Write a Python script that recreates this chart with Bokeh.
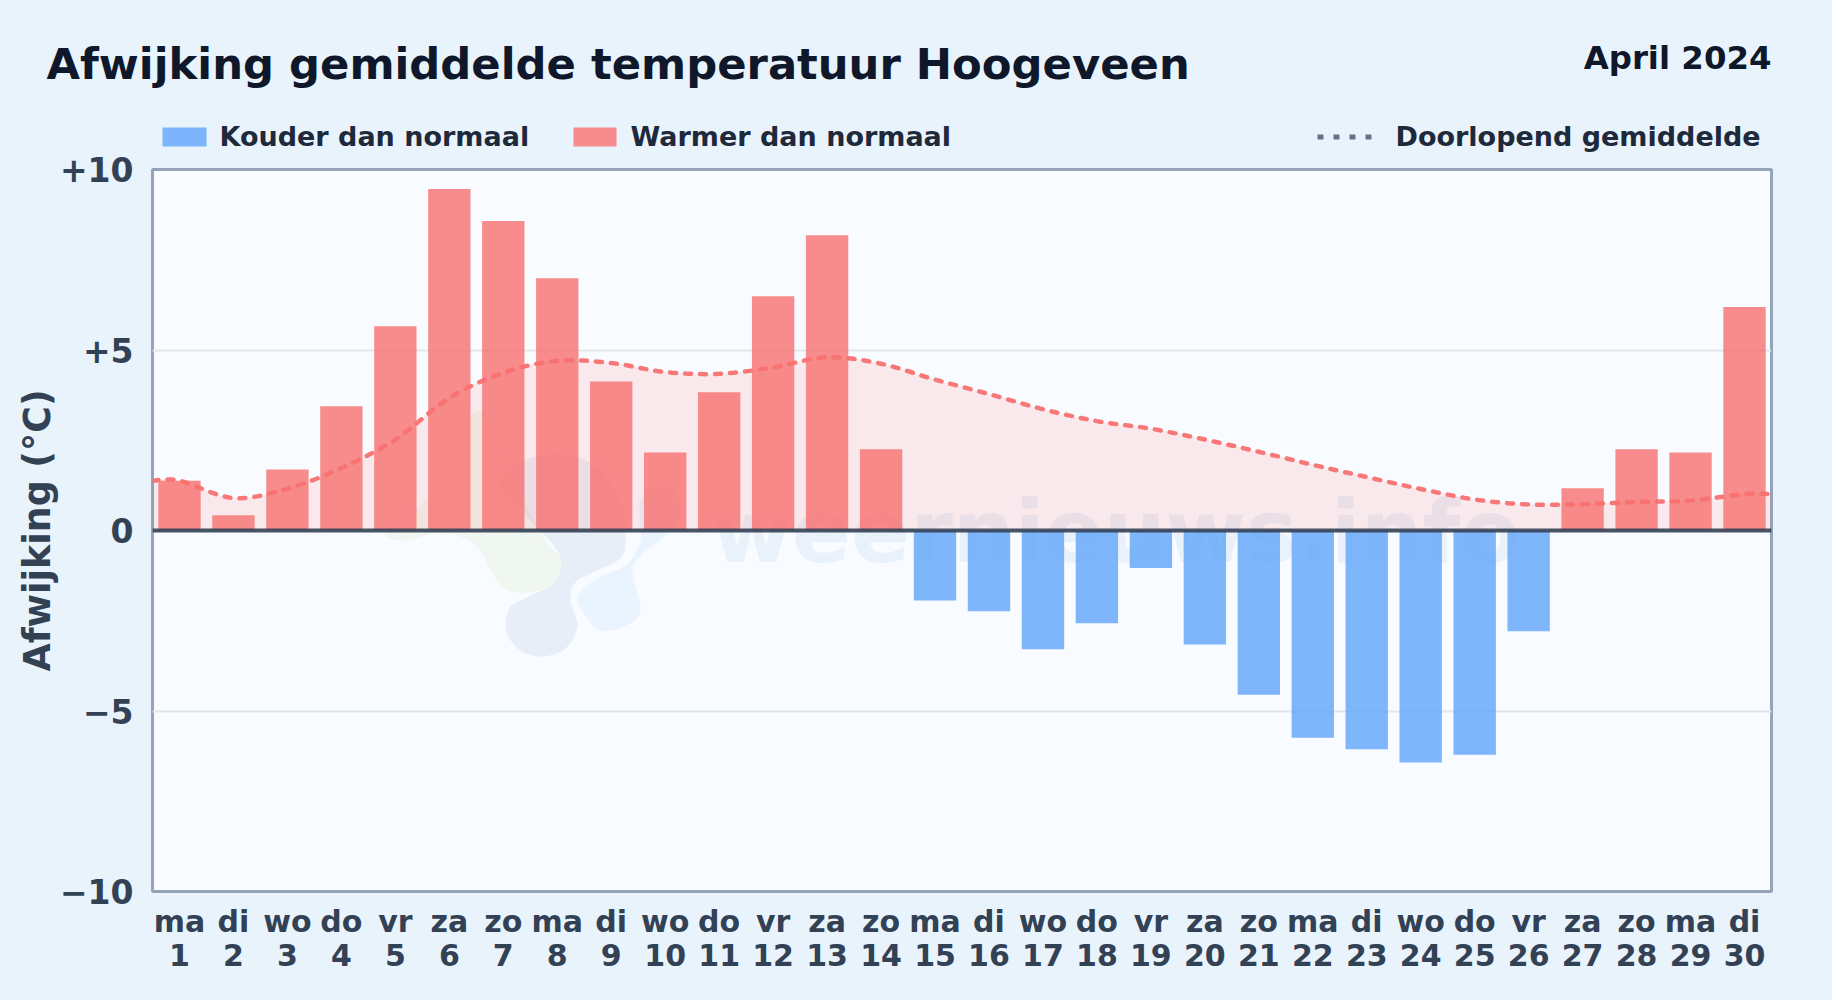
from bokeh.embed import file_html
from bokeh.resources import INLINE
from bokeh.plotting import figure
from bokeh.layouts import column
from bokeh.models import (ColumnDataSource, FixedTicker, Range1d, Span, LinearAxis)
from bokeh.core.properties import value
import numpy as np

# ---- data ----
weekdays = ["ma","di","wo","do","vr","za","zo","ma","di","wo","do","vr","za","zo","ma",
            "di","wo","do","vr","za","zo","ma","di","wo","do","vr","za","zo","ma","di"]
days = list(range(1, 31))
deviation = [1.38,0.42,1.69,3.44,5.66,9.46,8.57,6.99,4.13,2.16,3.83,6.49,8.18,2.25,-1.94,
             -2.24,-3.29,-2.57,-1.04,-3.16,-4.55,-5.74,-6.06,-6.43,-6.21,-2.79,1.17,2.25,2.16,6.19]
running_mean = [1.38,0.90,1.16,1.73,2.52,3.67,4.37,4.70,4.64,4.39,4.34,4.52,4.80,4.62,4.18,
                3.78,3.36,3.03,2.82,2.52,2.18,1.82,1.48,1.15,0.86,0.72,0.73,0.79,0.83,1.01]
y_ticks = [-10, -5, 0, 5, 10]
y_tick_labels = {-10: "\u221210", -5: "\u22125", 0: "0", 5: "+5", 10: "+10"}

BG = "#e8f3fc"; PLOT_BG = "#f8fbff"; INK = "#0f172a"; AXIS_INK = "#334155"; LEG_INK = "#1e293b"
RED = "#f87171"; BLUE = "#60a5fa"
W, H, HEAD, OVERLAP = 1832, 1000, 155, 12
L, R, T, B = 152.0, 1771.0, 169.0, 891.0   # page pixels of the frame
RISE = 0.38   # the text glyph's baseline sits this many ems lower than asked

# ---- header figure: title and legend, its data units are page pixels ----
head = figure(width=W, height=HEAD, output_backend="svg", toolbar_location=None,
              x_range=Range1d(0, W), y_range=Range1d(HEAD, 0), x_axis_location=None, y_axis_location=None,
              min_border=0, background_fill_color=BG, border_fill_color=BG, outline_line_color=None,
              frame_align=False, margin=(0, 0, -OVERLAP, 0))
head.xgrid.visible = False; head.ygrid.visible = False

def label(px, py, text, size, color, align="left"):
    head.text(x=[px], y=[py-RISE*size], text=[text], text_font=value("DejaVu Sans"), text_font_style="bold",
              text_font_size=f"{size}px", text_color=color, text_align=align, text_baseline="alphabetic")

label(46, 79.5, "Afwijking gemiddelde temperatuur Hoogeveen", 43.3, INK)
label(1771, 70, "April 2024", 32.4, INK, "right")
label(219, 146, "Kouder dan normaal", 27, LEG_INK)
label(630, 146, "Warmer dan normaal", 27, LEG_INK)
label(1395, 146, "Doorlopend gemiddelde", 27, LEG_INK)
head.quad(left=[162], right=[206], top=[127], bottom=[146], fill_color=BLUE, fill_alpha=0.8, line_color=None)
head.quad(left=[573], right=[616], top=[127], bottom=[146], fill_color=RED, fill_alpha=0.8, line_color=None)
head.quad(left=[1317, 1333, 1349, 1365], right=[1323, 1339, 1355, 1371], top=[134]*4, bottom=[139]*4,
          fill_color="#64748b", line_color=None)

# ---- main figure ----
TOP = HEAD - OVERLAP
p = figure(width=W, height=H-TOP, output_backend="svg", toolbar_location=None,
           x_range=Range1d(0.5, 30.5), y_range=Range1d(-10, 10),
           min_border_left=int(L), min_border_right=int(W-R),
           min_border_top=int(T-TOP), min_border_bottom=int(H-B),
           background_fill_color=PLOT_BG, border_fill_alpha=0,
           outline_line_color="#94a3b8", outline_line_width=3, frame_align=False)

def X(px): return 0.5 + (np.asarray(px, float)-L)/(R-L)*30
def Y(py): return 10 - (np.asarray(py, float)-T)/(B-T)*20

def smooth(xs, ys, n=16, closed=False):
    xs = np.asarray(xs, float); ys = np.asarray(ys, float)
    if closed:
        xs = np.r_[xs[-1], xs, xs[0], xs[1]]; ys = np.r_[ys[-1], ys, ys[0], ys[1]]
    else:
        xs = np.r_[xs[0], xs, xs[-1]]; ys = np.r_[ys[0], ys, ys[-1]]
    t = np.linspace(0, 1, n, endpoint=False)[:, None]
    def seg(a):
        a0, a1, a2, a3 = a[:-3], a[1:-2], a[2:-1], a[3:]
        return (0.5*((2*a1) + (a2-a0)*t + (2*a0-5*a1+4*a2-a3)*t**2 + (3*a1-a0-3*a2+a3)*t**3)).T.ravel()
    return seg(xs), seg(ys)

# ---- watermark ----
logo_green = [(385,532),(420,505),(440,470),(470,415),(490,420),(510,470),(540,533),(561,560),(553,583),(525,592),(500,585),(475,545),(440,532),(405,540)]
logo_navy = [(508,610),(506,632),(520,650),(541,656),(565,648),(577,625),(570,600),(577,580),(617,560),(625,540),(620,500),(590,462),(540,455),(500,480),(530,520),(553,545),(561,562),(553,583),(520,600)]
logo_blue = [(598,577),(625,565),(640,540),(640,500),(665,480),(680,510),(665,535),(640,555),(632,572),(640,610),(625,625),(600,630),(583,612),(578,595)]
for pts, col, a in [(logo_green, "#b5d96a", 0.10), (logo_navy, "#1e4a8c", 0.07), (logo_blue, "#60b0f5", 0.09)]:
    xs, ys = zip(*pts)
    sx, sy = smooth(xs, ys, closed=True)
    p.patch(X(sx), Y(sy), fill_color=col, fill_alpha=a, line_color=None)
p.text(x=[X(711)], y=[Y(565-RISE*87)], text=["weernieuws.info"], text_font=value("DejaVu Sans"),
       text_font_style="bold", text_font_size="87px", text_color="#2a6bb8", text_alpha=0.07,
       text_baseline="alphabetic", text_align="left")

# ---- grid ----
p.xgrid.visible = False
p.ygrid.ticker = FixedTicker(ticks=[-5, 5])
p.ygrid.grid_line_color = "#e2e7ea"; p.ygrid.grid_line_width = 2

# ---- running mean area + bars ----
line_x = [0.5] + days + [30.5]
line_y = [running_mean[0]] + running_mean + [running_mean[-1]]
sx, sy = smooth(line_x, line_y)
sx = np.r_[sx, line_x[-1]]; sy = np.r_[sy, line_y[-1]]
p.varea(sx, np.zeros_like(sy), sy, fill_color="#ff6b6b", fill_alpha=0.13)

src = ColumnDataSource(dict(x=days, top=deviation,
                            c=[RED if v >= 0 else BLUE for v in deviation]))
p.vbar(x="x", top="top", bottom=0, width=0.785, source=src, fill_color="c", fill_alpha=0.8, line_color=None)

p.line(sx, sy, line_color=RED, line_width=4.5, line_dash="6 9", line_cap="round", line_alpha=0.95)
p.add_layout(Span(location=0, dimension="width", line_color="#334155", line_width=4, line_alpha=0.9))

# ---- axes ----
def style_x(ax, overrides, standoff):
    ax.ticker = FixedTicker(ticks=days)
    ax.major_label_overrides = overrides
    ax.major_label_text_font = "DejaVu Sans"; ax.major_label_text_font_style = "bold"
    ax.major_label_text_font_size = "30px"; ax.major_label_text_color = AXIS_INK
    ax.major_label_standoff = standoff
    ax.major_tick_line_color = None; ax.minor_tick_line_color = None; ax.axis_line_color = None

style_x(p.xaxis[0], {d: w for d, w in zip(days, weekdays)}, 6)
axis_days = LinearAxis()
style_x(axis_days, {d: str(d) for d in days}, -4)
p.add_layout(axis_days, "below")

ya = p.yaxis[0]
ya.ticker = FixedTicker(ticks=y_ticks)
ya.major_label_overrides = y_tick_labels
ya.major_label_text_font = "DejaVu Sans"; ya.major_label_text_font_style = "bold"
ya.major_label_text_font_size = "33px"; ya.major_label_text_color = AXIS_INK
ya.major_label_standoff = 13
ya.major_tick_line_color = None; ya.minor_tick_line_color = None; ya.axis_line_color = None
ya.axis_label = "Afwijking (\u00b0C)"
ya.axis_label_text_font = "DejaVu Sans"; ya.axis_label_text_font_style = "bold"
ya.axis_label_text_font_size = "36.4px"; ya.axis_label_text_color = AXIS_INK
ya.axis_label_standoff = -2

page = column(head, p, spacing=0, styles={"background-color": BG})
open("out.html", "w").write(file_html(page, INLINE))
